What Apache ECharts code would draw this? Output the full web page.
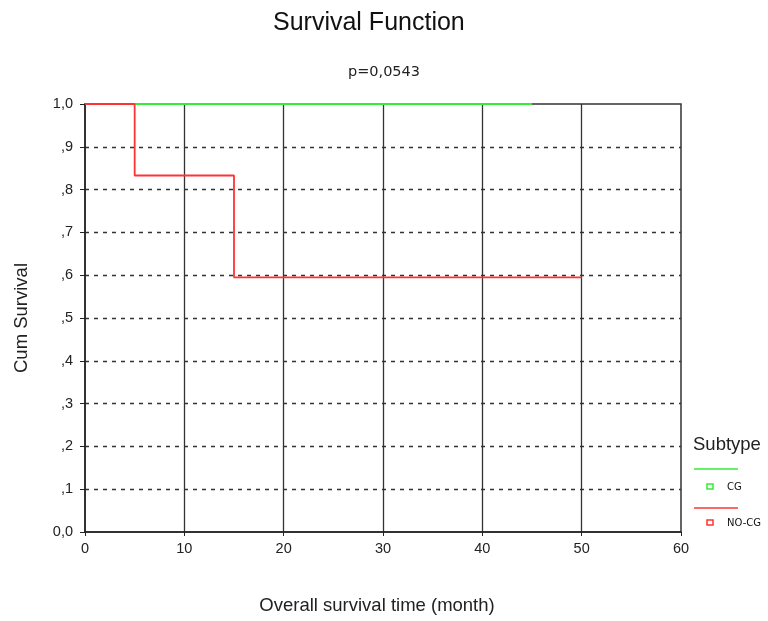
<!DOCTYPE html>
<html><head><meta charset="utf-8">
<script src="https://cdn.jsdelivr.net/npm/echarts@6/dist/echarts.min.js"></script>
<style>html,body{margin:0;padding:0;background:#fff}#c{width:768px;height:621px}</style>
</head><body><div id="c"></div>
<script>
var xTicks = [0, 10, 20, 30, 40, 50, 60];
var yTickLabels = {"0":"0,0","0.1":",1","0.2":",2","0.3":",3","0.4":",4","0.5":",5","0.6":",6","0.7":",7","0.8":",8","0.9":",9","1":"1,0"};
var cgTime = [0, 45];
var cgSurv = [1.0, 1.0];
var nocgTime = [0, 5, 15, 50];
var nocgSurv = [1.0, 0.833, 0.595, 0.595];
var groups = ["CG", "NO-CG"];
var colors = ["#33ee33", "#ff3333"];

function zip(a, b) { return a.map(function (v, i) { return [v, b[i]]; }); }

var chart = echarts.init(document.getElementById('c'));
var font = 'Liberation Sans, Arial, sans-serif';
var dv = 'DejaVu Sans, sans-serif';
chart.setOption({
  animation: false,
  textStyle: { fontFamily: font },
  title: [
    { text: 'Survival Function', left: 268, top: 6,
      textStyle: { fontSize: 25, fontWeight: 'normal', color: '#111', fontFamily: font } },
    { text: 'p=0,0543', left: 'center', top: 60,
      textStyle: { fontSize: 14.5, fontWeight: 'normal', color: '#222', fontFamily: dv } }
  ],
  grid: { left: 85, right: 87, top: 104, bottom: 89, show: true, borderColor: '#333', borderWidth: 1.5, backgroundColor: '#fff' },
  xAxis: {
    type: 'value', min: 0, max: 60, interval: 10,
    name: 'Overall survival time (month)', nameLocation: 'middle', nameGap: 64,
    nameTextStyle: { fontSize: 18.5, color: '#222', fontFamily: font, padding: [0, 12, 0, 0] },
    axisLine: { show: true, lineStyle: { color: '#222', width: 1.5 } },
    axisTick: { show: true, length: 4, lineStyle: { color: '#222' } },
    axisLabel: { fontSize: 14.5, color: '#222', margin: 9, fontFamily: font },
    splitLine: { show: true, showMinLine: false, showMaxLine: false, lineStyle: { color: '#333', width: 1.3, type: 'solid' } }
  },
  yAxis: {
    type: 'value', min: 0, max: 1, interval: 0.1,
    name: 'Cum Survival', nameLocation: 'middle', nameGap: 54, nameRotate: 90,
    nameTextStyle: { fontSize: 18.5, color: '#222', fontFamily: font },
    axisLine: { show: true, lineStyle: { color: '#222', width: 1.5 } },
    axisTick: { show: true, length: 5, lineStyle: { color: '#222' } },
    axisLabel: { fontSize: 14.5, color: '#222', margin: 12, fontFamily: font,
      formatter: function (v) { return yTickLabels[String(Math.round(v * 10) / 10)]; } },
    splitLine: { show: true, showMinLine: false, showMaxLine: false, lineStyle: { color: '#333', width: 1.3, type: [4, 5] } }
  },
  series: [
    { name: groups[0], type: 'line', data: zip(cgTime, cgSurv), step: 'end', symbol: 'none',
      lineStyle: { color: colors[0], width: 1.8 }, z: 3 },
    { name: groups[1], type: 'line', data: zip(nocgTime, nocgSurv), step: 'end', symbol: 'none',
      lineStyle: { color: colors[1], width: 1.8 }, z: 4 }
  ],
  graphic: [
    { type: 'text', left: 693, top: 435, style: { text: 'Subtype', fontSize: 18.5, fill: '#222', fontFamily: font } },
    { type: 'line', shape: { x1: 694, y1: 469, x2: 738, y2: 469 }, style: { stroke: colors[0], lineWidth: 1.5 } },
    { type: 'rect', shape: { x: 707, y: 484, width: 6, height: 5 }, style: { fill: '#fff', stroke: colors[0], lineWidth: 1.5 } },
    { type: 'text', left: 727, top: 482, style: { text: groups[0], fontSize: 10, fill: '#111', fontFamily: dv } },
    { type: 'line', shape: { x1: 694, y1: 508, x2: 738, y2: 508 }, style: { stroke: colors[1], lineWidth: 1.5 } },
    { type: 'rect', shape: { x: 707, y: 520, width: 6, height: 5 }, style: { fill: '#fff', stroke: colors[1], lineWidth: 1.5 } },
    { type: 'text', left: 727, top: 518, style: { text: groups[1], fontSize: 10, fill: '#111', fontFamily: dv } }
  ]
});
</script>
</body></html>
